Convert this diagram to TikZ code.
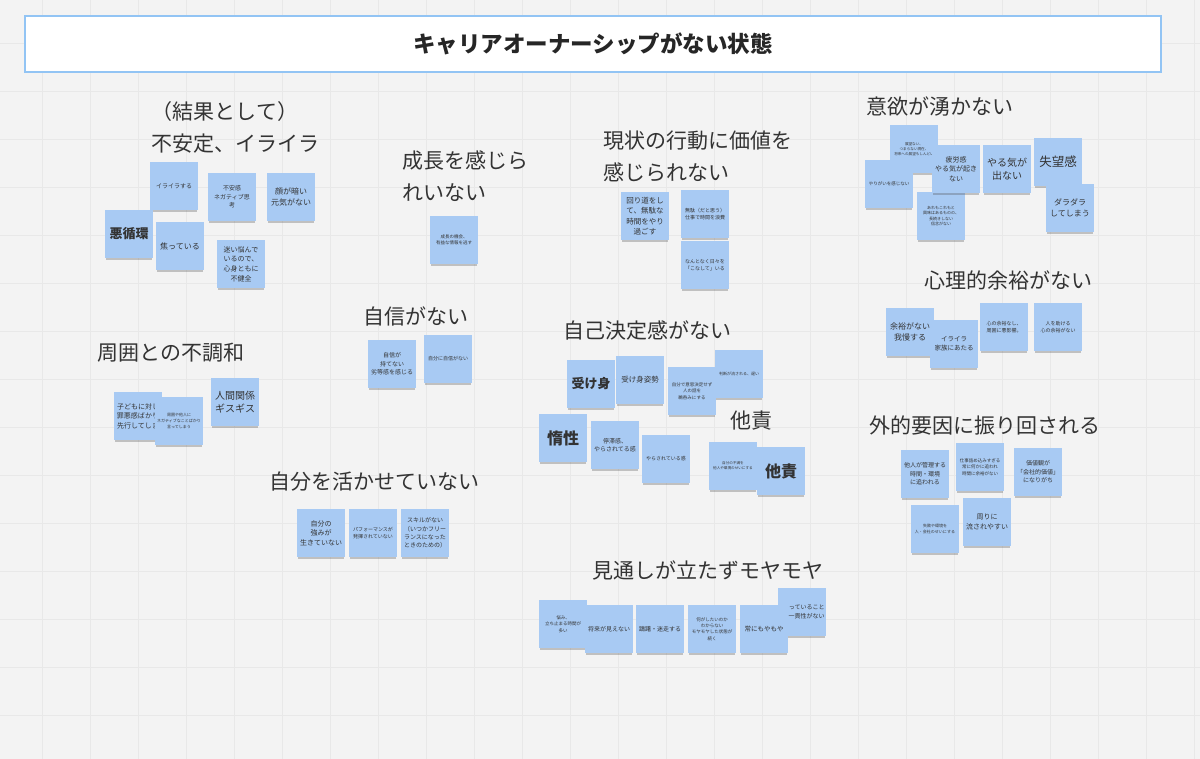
\documentclass[tikz,border=0pt]{standalone}
\usepackage{fontspec}
\setmainfont{Noto Sans CJK JP}
\usetikzlibrary{shadows}
\definecolor{bgc}{HTML}{F3F3F3}
\definecolor{gridc}{HTML}{E8E8E8}
\definecolor{notec}{HTML}{A8CAF3}
\definecolor{titleb}{HTML}{92C4F4}
\definecolor{txt}{HTML}{333333}
\tikzset{
  note/.style={fill=notec, minimum width=48, minimum height=48, inner sep=1,
    align=center, text width=44, text=txt,
    drop shadow={shadow xshift=0pt, shadow yshift=-3pt, shadow scale=0.96, opacity=0.3, fill=black!70}},
  head/.style={text=txt, inner sep=0, font=\fontsize{21}{32}\selectfont, align=left},
  fa/.style={font=\fontsize{3.6}{5}\selectfont},
  fb/.style={font=\fontsize{4}{5.6}\selectfont},
  fc/.style={font=\fontsize{4.5}{6.3}\selectfont},
  fd/.style={font=\fontsize{5}{7}\selectfont},
  fe/.style={font=\fontsize{6}{8.4}\selectfont},
  ff/.style={font=\fontsize{6.5}{9}\selectfont},
  fg/.style={font=\fontsize{7}{9.6}\selectfont},
  fh/.style={font=\fontsize{7.5}{10.3}\selectfont},
  fi/.style={font=\fontsize{8}{11}\selectfont},
  fj/.style={font=\fontsize{10}{13.5}\selectfont},
  fk/.style={font=\fontsize{12.5}{16}\selectfont},
  fbig/.style={font=\fontsize{13}{16}\selectfont\bfseries},
  fhuge/.style={font=\fontsize{16}{19}\selectfont\bfseries},
}
\begin{document}
\begin{tikzpicture}[x=1pt,y=-1pt]
\fill[bgc] (0,0) rectangle (1200,759);
\useasboundingbox (0,0) rectangle (1200,759);
\foreach \gx in {42,90,...,1200} \draw[gridc, line width=0.7] (\gx,0) -- (\gx,759);
\foreach \gy in {43,91,...,759} \draw[gridc, line width=0.7] (0,\gy) -- (1200,\gy);

% title
\node[draw=titleb, line width=1.6, fill=white, minimum width=1136, minimum height=56, text=black!85,
  font=\fontsize{22.5}{26}\selectfont\bfseries] (title) at (593,44) {キャリアオーナーシップがない状態};

% headings
\node[head] (h1) at (225,112) {（結果として）};
\node[head] (h2) at (235,144) {不安定、イライラ};
\node[head, anchor=west] (h3) at (402,176) {成長を感じら\\れいない};
\node[head] (h4) at (416,316) {自信がない};
\node[head] (h5) at (171,353) {周囲との不調和};
\node[head] (h6) at (374,482) {自分を活かせていない};
\node[head, anchor=west] (h7) at (603,156) {現状の行動に価値を\\感じられない};
\node[head] (h8) at (647,331) {自己決定感がない};
\node[head] (h9) at (751,421) {他責};
\node[head] (h10) at (708,570) {見通しが立たずモヤモヤ};
\node[head] (h11) at (940,106) {意欲が湧かない};
\node[head] (h12) at (1008,280) {心理的余裕がない};
\node[head] (h13) at (985,425) {外的要因に振り回される};

% 不安定、イライラ
\node[note,fe] (a1) at (174,186) {イライラする};
\node[note,fe] (a2) at (232,197) {不安感\\ネガティブ思\\考};
\node[note,fi] (a3) at (291,197) {顔が暗い\\元気がない};
\node[note,fbig] (a4) at (129,234) {悪循環};
\node[note,fi] (a5) at (180,246) {焦っている};
\node[note,fg] (a6) at (241,264) {迷い悩んで\\いるので、\\心身ともに\\不健全};

% 成長
\node[note,fc] (b1) at (454,240) {成長の機会、\\有益な情報を逃す};

% 自信
\node[note,fe] (c1) at (392,364) {自信が\\持てない\\劣等感を感じる};
\node[note,fd] (c2) at (448,359) {自分に自信がない};

% 周囲
\node[note,fg] (d1) at (138,416) {子どもに対し\\罪悪感ばかり\\先行してしま};
\node[note,fb] (d2) at (179,421) {周囲や他人に\\ネガティブなことばかり\\言ってしまう};
\node[note,fj] (d3) at (235,402) {人間関係\\ギスギス};

% 自分を活かせていない
\node[note,fg] (e1) at (321,533) {自分の\\強みが\\生きていない};
\node[note,fd] (e2) at (373,533) {パフォーマンスが\\発揮されていない};
\node[note,fe] (e3) at (425,533) {スキルがない\\（いつかフリー\\ランスになった\\ときのための）};

% 現状
\node[note,fh] (f1) at (645,216) {回り道をし\\て、無駄な\\時間をやり\\過ごす};
\node[note,fd] (f2) at (705,214) {無駄（だと思う）\\仕事で時間を浪費};
\node[note,fd] (f3) at (705,265) {なんとなく日々を\\「こなして」いる};

% 自己決定感
\node[note,fbig] (g1) at (591,384) {受け身};
\node[note,fh] (g2) at (640,380) {受け身姿勢};
\node[note,fc] (g3) at (692,391) {自分で意思決定せず\\人の話を\\鵜呑みにする};
\node[note,fb] (g4) at (739,374) {判断が流される、遅い};
\node[note,fhuge] (g5) at (563,438) {惰性};
\node[note,fe] (g6) at (615,445) {停滞感、\\やらされてる感};
\node[note,fd] (g7) at (666,459) {やらされている感};

% 他責
\node[note,fa] (t1) at (733,466) {自分の不満を\\他人や環境のせいにする};
\node[note,fhuge] (t2) at (781,471) {他責};

% 見通し
\node[note,fc] (m1) at (563,624) {悩み、\\立ち止まる時間が\\多い};
\node[note,fe] (m2) at (609,629) {将来が見えない};
\node[note,fe] (m3) at (660,629) {躊躇・迷走する};
\node[note,fc] (m4) at (712,629) {何がしたいのか\\わからない\\モヤモヤした状態が\\続く};
\node[note,fe, align=right, text width=45, inner sep=0] (m6) at (802,612) {っていること\\一貫性がない};
\node[note,ff] (m5) at (764,629) {常にもやもや};

% 意欲
\node[note,fa] (i1) at (914,149) {展望ない、\\つまらない現在、\\将来への展望もしんどい};
\node[note,fc] (i2) at (889,184) {やりがいを感じない};
\node[note,fb] (i6) at (941,216) {あれもこれもと\\興味はあるものの、\\長続きしない\\信念がない};
\node[note,fg] (i3) at (956,169) {疲労感\\やる気が起き\\ない};
\node[note,fj] (i4) at (1007,169) {やる気が\\出ない};
\node[note,fk] (i5) at (1058,162) {失望感};
\node[note,fi] (i7) at (1070,208) {ダラダラ\\してしまう};

% 心理的余裕
\node[note,fi] (p1) at (910,332) {余裕がない\\我慢する};
\node[note,ff] (p2) at (954,344) {イライラ\\家族にあたる};
\node[note,fd] (p3) at (1004,327) {心の余裕なし、\\周囲に悪影響。};
\node[note,fd] (p4) at (1058,327) {人を助ける\\心の余裕がない};

% 外的要因
\node[note,fe] (o1) at (925,474) {他人が管理する\\時間・環境\\に追われる};
\node[note,fc] (o2) at (980,467) {仕事詰め込みすぎる\\常に何かに追われ\\時間に余裕がない};
\node[note,fe] (o3) at (1038,472) {価値観が\\「会社的価値」\\になりがち};
\node[note,fb] (o4) at (935,529) {失敗や環境を\\人・会社のせいにする};
\node[note,fg] (o5) at (987,522) {周りに\\流されやすい};
\end{tikzpicture}
\end{document}
